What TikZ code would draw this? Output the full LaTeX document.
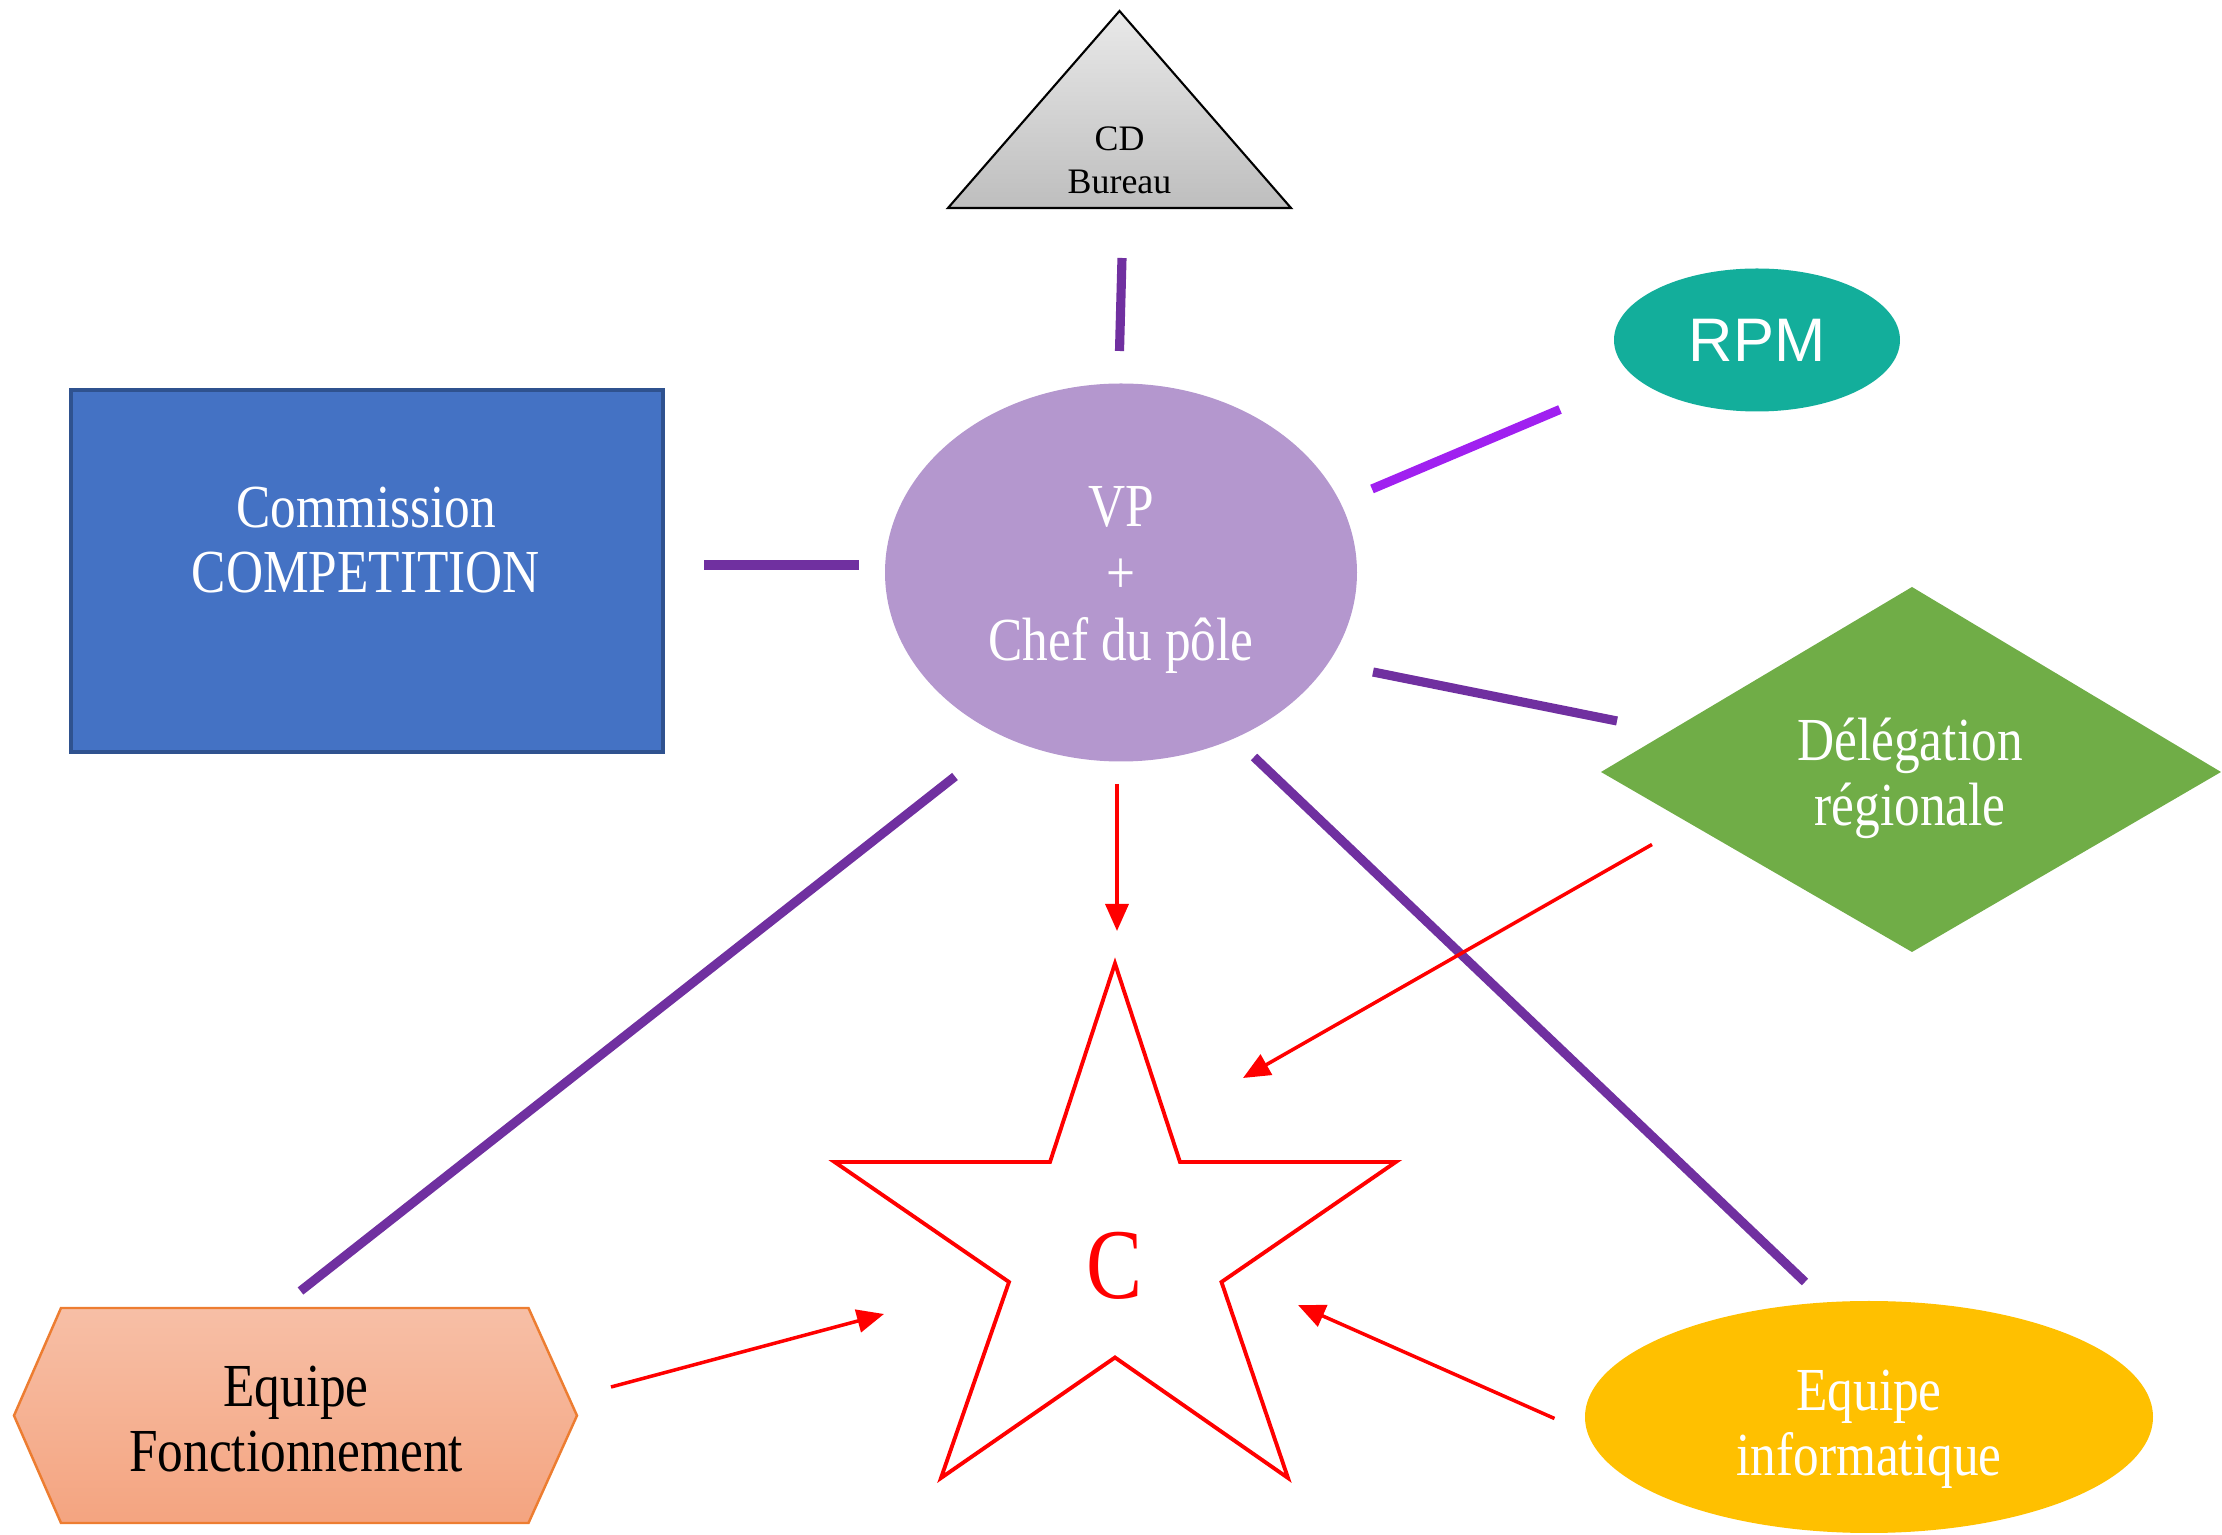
\documentclass[tikz,border=0pt]{standalone}
\usepackage{fontspec}
\setmainfont{Liberation Serif}[FakeStretch=0.84]
\newfontfamily\cdfont{Liberation Serif}
\newfontfamily\rpmfont{Liberation Sans}
\usetikzlibrary{shapes.geometric,arrows.meta}
\definecolor{linkpurple}{RGB}{112,48,160}
\definecolor{brightpurple}{RGB}{160,32,240}
\definecolor{vpfill}{RGB}{180,151,206}
\definecolor{rpmfill}{RGB}{19,174,155}
\definecolor{comfill}{RGB}{68,114,196}
\definecolor{comborder}{RGB}{47,82,143}
\definecolor{delfill}{RGB}{112,173,71}
\definecolor{infofill}{RGB}{255,192,0}
\definecolor{hexborder}{RGB}{237,125,49}
\definecolor{hextop}{RGB}{247,191,166}
\definecolor{hexbot}{RGB}{244,164,128}
\definecolor{arrowred}{RGB}{255,0,0}
\definecolor{tritop}{RGB}{233,233,233}
\definecolor{tribot}{RGB}{190,190,190}
\begin{document}
\begin{tikzpicture}[x=0.1mm,y=-0.1mm,
  txt/.style={font=\fontsize{17.4}{18.5}\selectfont, align=center, inner sep=0pt},
  link/.style={draw=linkpurple, line width=2.6pt},
  redarrow/.style={draw=arrowred, line width=1pt, -{Triangle[length=2.7mm,width=2.3mm]}},
]
\useasboundingbox (0,0) rectangle (2222,1535);

% triangle CD Bureau
\path[draw=black, line width=0.6pt, top color=tritop, bottom color=tribot]
  (1119.5,11) -- (1291,208) -- (948,208) -- cycle;
\node[font=\cdfont\fontsize{10.2}{12.3}\selectfont, align=center, inner sep=0pt] (cd) at (1119.5,160) {CD\\Bureau};

% VP ellipse
\node[ellipse, fill=vpfill, minimum width=47.2mm, minimum height=37.8mm, inner sep=0pt] (vp) at (1121,572.5) {};
\node[txt, font=\fontsize{17.4}{19.1}\selectfont, text=white] (vptext) at (1121,580) {VP\\+\\Chef du pôle};

% Commission rectangle
\node[rectangle, fill=comfill, draw=comborder, line width=1.2pt, minimum width=59.2mm, minimum height=36.2mm, inner sep=0pt] (com) at (367,571) {};
\node[txt, text=white] (comtext) at (366,540) {Commission\\COMPETITION};

% RPM ellipse
\node[ellipse, fill=rpmfill, minimum width=28.6mm, minimum height=14.3mm, inner sep=0pt,
  font=\rpmfont\fontsize{17.5}{17.5}\selectfont, text=white] (rpm) at (1757,340) {RPM};

% Delegation diamond
\path[fill=delfill] (1601,772) -- (1912,587) -- (2221,772) -- (1912,952) -- cycle;
\node[txt, text=white] (del) at (1910,778) {Délégation\\régionale};

% Equipe Fonctionnement hexagon
\path[draw=hexborder, line width=0.7pt, top color=hextop, bottom color=hexbot]
  (14,1415.6) -- (61,1308) -- (528.5,1308) -- (577,1415.6) -- (528.5,1523) -- (61,1523) -- cycle;
\node[txt, text=black] (fonct) at (296,1419) {Equipe\\Fonctionnement};

% Equipe informatique ellipse
\node[ellipse, fill=infofill, minimum width=56.8mm, minimum height=23.2mm, inner sep=0pt] (info) at (1869,1417) {};
\node[txt, text=white] (infotext) at (1869,1429) {Equipe\\informatique};

% star
\draw[arrowred, line width=1.1pt] (1115,963.5) -- (1180,1162) -- (1395.8,1162) -- (1221.5,1282)
  -- (1288,1478) -- (1115,1357.5) -- (941,1478) -- (1009,1282) -- (834.6,1162) -- (1050,1162) -- cycle;
\node[font=\fontsize{28.5}{28.5}\selectfont, text=arrowred, inner sep=0pt] (c) at (1115,1266) {C};

% connector end points
\coordinate (cdA) at (1122,258);
\coordinate (cdB) at (1119.5,351);
\coordinate (comA) at (704,565);
\coordinate (comB) at (859,565);
\coordinate (rpmA) at (1372,489);
\coordinate (rpmB) at (1560,409.5);
\coordinate (delA) at (1373,672);
\coordinate (delB) at (1617,721);
\coordinate (fonA) at (955,776.5);
\coordinate (fonB) at (300.5,1291);
\coordinate (infA) at (1254,757);
\coordinate (infB) at (1805,1282);

\draw[link] (cdA) -- (cdB);
\draw[link] (comA) -- (comB);
\draw[draw=brightpurple, line width=2.6pt] (rpmA) -- (rpmB);
\draw[link] (delA) -- (delB);
\draw[link] (fonA) -- (fonB);
\draw[link] (infA) -- (infB);

% red arrows
\coordinate (vpArr) at (1117,784);
\coordinate (starTop) at (1117,931);
\coordinate (delArr) at (1652,844.5);
\coordinate (starNE) at (1243,1078);
\coordinate (fonArr) at (611,1387);
\coordinate (starW) at (884,1314);
\coordinate (infArr) at (1554.5,1418.5);
\coordinate (starE) at (1298,1305);

\draw[redarrow] (vpArr) -- (starTop);
\draw[redarrow] (delArr) -- (starNE);
\draw[redarrow] (fonArr) -- (starW);
\draw[redarrow] (infArr) -- (starE);
\end{tikzpicture}
\end{document}
